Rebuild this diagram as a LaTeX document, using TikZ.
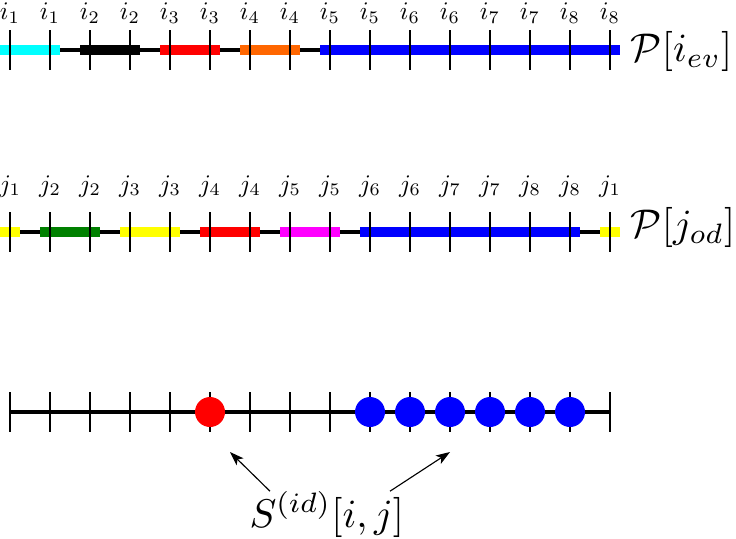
\documentclass[tikz,border=0pt]{standalone}
\usepackage{amsmath,amssymb}
\usetikzlibrary{arrows.meta}
\definecolor{BarCyan}{RGB}{0,255,255}
\definecolor{BarMagenta}{RGB}{255,0,255}
\definecolor{BarYellow}{RGB}{255,255,0}
\definecolor{BarRed}{RGB}{255,0,0}
\definecolor{BarBlue}{RGB}{0,0,255}
\definecolor{BarOrange}{RGB}{255,102,0}
\definecolor{BarGreen}{RGB}{0,128,0}

\begin{document}
\begin{tikzpicture}[
  axis/.style={line width=2.8pt},
  tickmark/.style={line width=1.4pt},
  bar/.style={line width=7.8pt},
  idx/.style={scale=1.8, anchor=base},
  big/.style={scale=2.85},
  dot/.style={circle, minimum size=0.75cm, inner sep=0pt}]
\useasboundingbox (-0.25,0) rectangle (18.15,-13.45);

% i row
\draw[axis] (-0.25,-1.25) -- (15.25,-1.25);
\draw[bar, BarCyan] (-0.25,-1.25) -- (1.25,-1.25);
\draw[bar, black] (1.75,-1.25) -- (3.25,-1.25);
\draw[bar, BarRed] (3.75,-1.25) -- (5.25,-1.25);
\draw[bar, BarOrange] (5.75,-1.25) -- (7.25,-1.25);
\draw[bar, BarBlue] (7.75,-1.25) -- (15.25,-1.25);
\foreach \k in {0,...,15}
  \draw[tickmark] (\k,-0.75) -- (\k,-1.75);
\foreach \k/\t in {0/1,1/1,2/2,3/2,4/3,5/3,6/4,7/4,8/5,9/5,10/6,11/6,12/7,13/7,14/8,15/8}
  \node[idx] (i\k) at (\k,-0.5) {$i_{\t}$};
\node[big, anchor=base west, inner sep=0pt] (pev) at (15.5,-1.54) {$\mathcal{P}[i_{ev}]$};

% j row
\draw[axis] (-0.25,-5.8) -- (15.25,-5.8);
\draw[bar, BarYellow] (-0.25,-5.8) -- (0.25,-5.8);
\draw[bar, BarGreen] (0.75,-5.8) -- (2.25,-5.8);
\draw[bar, BarYellow] (2.75,-5.8) -- (4.25,-5.8);
\draw[bar, BarRed] (4.75,-5.8) -- (6.25,-5.8);
\draw[bar, BarMagenta] (6.75,-5.8) -- (8.25,-5.8);
\draw[bar, BarBlue] (8.75,-5.8) -- (14.25,-5.8);
\draw[bar, BarYellow] (14.75,-5.8) -- (15.25,-5.8);
\foreach \k in {0,...,15}
  \draw[tickmark] (\k,-5.3) -- (\k,-6.3);
\foreach \k/\t in {0/1,1/2,2/2,3/3,4/3,5/4,6/4,7/5,8/5,9/6,10/6,11/7,12/7,13/8,14/8,15/1}
  \node[idx] (j\k) at (\k,-4.8) {$j_{\t}$};
\node[big, anchor=base west, inner sep=0pt] (pod) at (15.5,-5.93) {$\mathcal{P}[j_{od}]$};

% S row
\draw[axis] (0,-10.3) -- (15,-10.3);
\foreach \k in {0,...,15}
  \draw[tickmark] (\k,-9.8) -- (\k,-10.8);
\node[dot, fill=BarRed] (d5) at (5,-10.3) {};
\foreach \k in {9,...,14}
  \node[dot, fill=BarBlue] (d\k) at (\k,-10.3) {};

\node[big, anchor=base] (sid) at (7.92,-13.18) {$S^{(id)}[i,j]$};
\coordinate (a1) at (6.5,-12.28);
\coordinate (a2) at (9.5,-12.28);
\coordinate (t1) at (5.5,-11.3);
\coordinate (t2) at (11,-11.3);
\draw[-{Stealth[length=10pt,width=7pt,inset=2.5pt]}, line width=0.8pt] (a1) -- (t1);
\draw[-{Stealth[length=10pt,width=7pt,inset=2.5pt]}, line width=0.8pt] (a2) -- (t2);
\end{tikzpicture}
\end{document}
